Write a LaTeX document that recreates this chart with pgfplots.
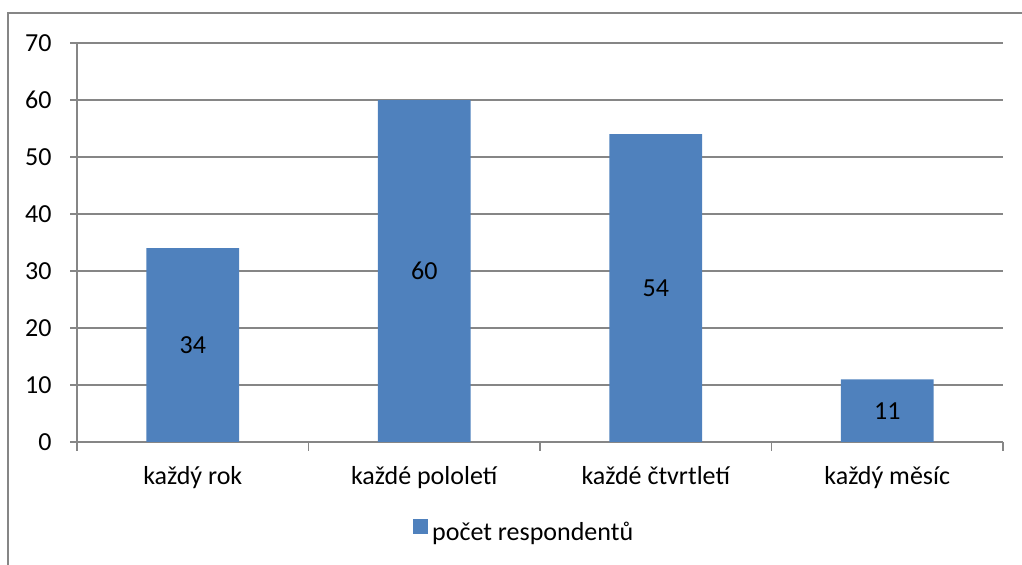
\documentclass[border=0pt]{standalone}
\usepackage{fontspec}
\setmainfont{Carlito}
\usepackage{pgfplots}
\pgfplotsset{compat=1.18}
\definecolor{barblue}{HTML}{4F81BD}
\definecolor{gridgray}{HTML}{868686}

\begin{document}
\begin{tikzpicture}
  % 1 px of the reference = 0.5pt
  \useasboundingbox (0pt,0pt) rectangle (511pt,282.5pt);
  \draw[gridgray, line width=0.75pt] (4pt,0pt) -- (4pt,276pt) -- (511pt,276pt);
  \begin{axis}[
    at={(38.5pt,61.5pt)}, anchor=south west,
    scale only axis, width=463pt, height=199.5pt,
    font=\fontsize{13}{15}\selectfont,
    /pgf/number format/assume math mode=true,
    xmin=-0.5, xmax=3.5, ymin=0, ymax=70,
    axis x line*=bottom, axis y line*=left,
    axis line style={gridgray, line width=0.8pt, -},
    ytick={0,10,...,70},
    ymajorgrids, grid style={gridgray, line width=0.8pt},
    y tick style={gridgray, line width=0.8pt},
    ytick align=outside, major tick length=3.5pt,
    yticklabel style={anchor=east, inner sep=0pt, xshift=-9pt},
    xtick={0,1,2,3},
    xticklabels={každý rok, každé pololetí, každé čtvrtletí, každý měsíc},
    x tick style={draw=none},
    xticklabel style={anchor=base, inner sep=0pt, yshift=-21.5pt},
    extra x ticks={-0.5,0.5,1.5,2.5,3.5},
    extra x tick labels={},
    extra x tick style={x tick style={draw=gridgray, line width=0.8pt}, xtick align=outside, major tick length=4.5pt},
    legend style={draw=none, fill=none, at={(0.484,-0.228)}, anchor=center,
      font=\fontsize{13}{15}\selectfont},
  ]
    \addplot[ybar, fill=barblue, draw=none, bar width=0.4,
      point meta=y,
      visualization depends on=y \as \rawy,
      nodes near coords,
      every node near coord/.append style={anchor=center, text=black,
        shift={(axis direction cs:0,-\rawy/2)}},
      legend image code/.code={\fill[barblue] (0pt,-0.5pt) rectangle (7.5pt,7pt);},
    ] coordinates {(0,34) (1,60) (2,54) (3,11)};
    \addlegendentry{počet respondentů}
  \end{axis}
\end{tikzpicture}
\end{document}
